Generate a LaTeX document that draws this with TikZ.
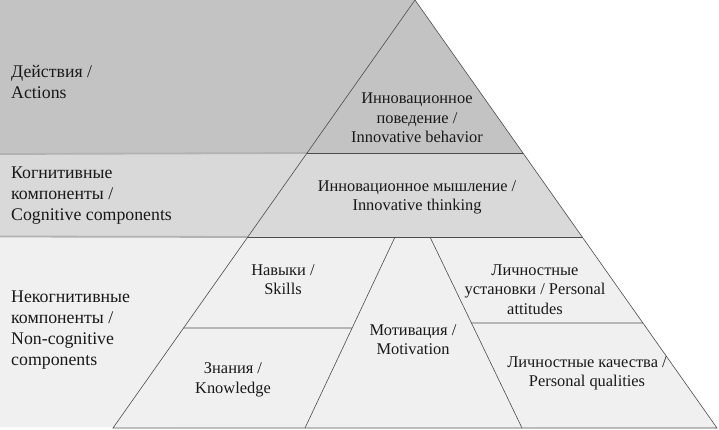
\documentclass[tikz,border=0pt]{standalone}
\usepackage{fontspec}
\setmainfont{Liberation Serif}
\usetikzlibrary{positioning,calc}
\definecolor{bandA}{HTML}{C3C3C3}
\definecolor{bandB}{HTML}{D9D9D9}
\definecolor{bandC}{HTML}{F0F0F0}
\begin{document}
\begin{tikzpicture}[x=1pt,y=-1pt,
  side/.style={anchor=west,align=left,inner sep=0pt,font=\fontsize{17.8}{21}\selectfont,text=black!90},
  cell/.style={align=center,inner sep=0pt,font=\fontsize{16.4}{19.5}\selectfont,text=black!90},
  edge/.style={draw=black!70,line width=0.6pt},
  shade/.style={draw=black!30,line width=1.8pt}
]
\useasboundingbox (0,0) rectangle (719,430);
\coordinate (top) at (415,0);
\coordinate (bl) at (113,428);
\coordinate (br) at (717,428);
\coordinate (l1) at ($(top)!0.3575!(bl)$);
\coordinate (r1) at ($(top)!0.3575!(br)$);
\coordinate (l2) at ($(top)!0.5537!(bl)$);
\coordinate (r2) at ($(top)!0.5537!(br)$);
\coordinate (m1) at (395,237);
\coordinate (m2) at (305,428);
\coordinate (n1) at (430,237);
\coordinate (n2) at (522,428);
\coordinate (h1) at ($(top)!0.7664!(bl)$);
\coordinate (h2) at ($(m1)!0.4764!(m2)$);
\coordinate (k1) at ($(n1)!0.4503!(n2)$);
\coordinate (k2) at ($(top)!0.7547!(br)$);

\fill[bandA] (0,0) -- (top) -- (r1) -- (0,153) -- cycle;
\fill[bandB] (0,153) -- (r1) -- (r2) -- (0,237) -- cycle;
\fill[bandC] (0,237) -- (r2) -- (br) -- (0,427) -- cycle;
\draw[shade] (0,154) -- (l1);
\draw[shade] (0,236.5) -- (l2);

\draw[edge] (top) -- (bl) -- (br) -- cycle;
\draw[edge] (l1) -- (r1);
\draw[edge] (l2) -- (r2);
\draw[edge] (m1) -- (m2);
\draw[edge] (n1) -- (n2);
\draw[edge] (h1) -- (h2);
\draw[edge] (k1) -- (k2);

\node[side] (act) at (11,82) {Действия /\\Actions};
\node[side] (cog) at (11,196) {Когнитивные\\компоненты /\\Cognitive components};
\node[side] (noncog) at (11,330) {Некогнитивные\\компоненты /\\Non-cognitive\\components};

\node[cell] (behav) at (417,118) {Инновационное\\поведение /\\Innovative behavior};
\node[cell] (think) at (417,197.5) {Инновационное мышление /\\Innovative thinking};
\node[cell] (skill) at (283,279.5) {Навыки /\\Skills};
\node[cell] (know) at (233,380) {Знания /\\Knowledge};
\node[cell] (motiv) at (413,339.5) {Мотивация /\\Motivation};
\node[cell] (attit) at (535,289.5) {Личностные\\установки / Personal\\attitudes};
\node[cell] (qual) at (587,373.5) {Личностные качества /\\Personal qualities};
\end{tikzpicture}
\end{document}
